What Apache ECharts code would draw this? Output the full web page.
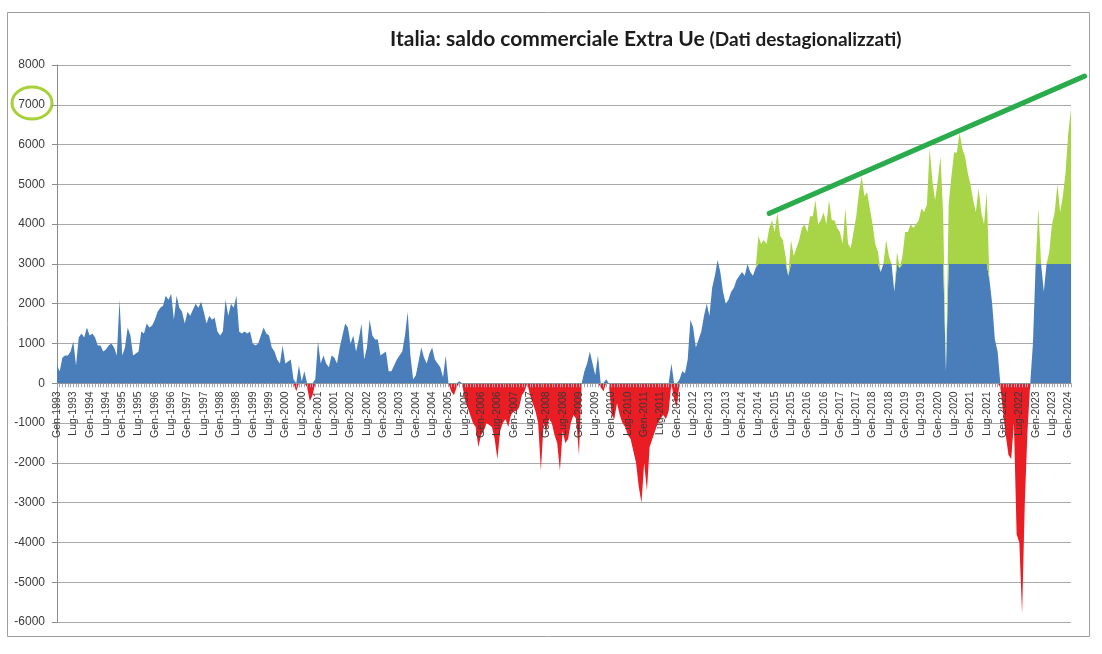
<!DOCTYPE html>
<html>
<head>
<meta charset="utf-8">
<script src="https://cdn.jsdelivr.net/npm/echarts@6/dist/echarts.min.js"></script>
<style>
  html, body { margin: 0; padding: 0; background: #fff; }
  #main { width: 1102px; height: 654px; }
</style>
</head>
<body>
<div id="main"></div>
<script>
// saldo commerciale extra Ue, milioni di euro, dati mensili destagionalizzati
var v1993 = [450, 300, 650, 700, 700, 800, 1050, 450, 1150, 1250, 1150, 1400];
var v1994 = [1200, 1250, 1150, 950, 950, 800, 850, 950, 1000, 900, 700, 2100];
var v1995 = [700, 900, 1400, 1200, 700, 750, 800, 1300, 1250, 1500, 1400, 1450];
var v1996 = [1600, 1800, 1900, 1950, 2200, 2100, 2250, 1600, 2200, 1900, 1800, 1500];
var v1997 = [1800, 1700, 1850, 2000, 1900, 2050, 1800, 1500, 1700, 1600, 1650, 1300];
var v1998 = [1200, 1300, 2100, 1700, 2000, 1900, 2200, 1300, 1250, 1300, 1250, 1300];
var v1999 = [1000, 950, 1000, 1200, 1400, 1250, 1200, 900, 800, 600, 500, 950];
var v2000 = [500, 550, 600, 100, -200, 450, 50, 300, -100, -450, -300, 100];
var v2001 = [1050, 500, 700, 500, 400, 700, 650, 500, 900, 1200, 1500, 1400];
var v2002 = [1000, 1200, 800, 1100, 1500, 600, 900, 1600, 1200, 1100, 1100, 700];
var v2003 = [750, 800, 300, 300, 450, 600, 700, 800, 1200, 1800, 700, 100];
var v2004 = [200, 550, 900, 650, 500, 750, 900, 600, 500, 400, 150, 700];
var v2005 = [0, -200, -300, -100, 50, 0, -400, -600, -800, -1000, -1100, -1600];
var v2006 = [-1300, -1200, -1000, -1050, -1100, -1400, -1900, -1200, -1000, -900, -1100, -800];
var v2007 = [-700, -700, -600, -300, -200, 0, -300, -500, -700, -1000, -2200, -1000];
var v2008 = [-1200, -900, -1000, -1300, -1500, -2200, -1200, -1500, -1400, -1000, -800, -900];
var v2009 = [-1800, 0, 300, 500, 800, 500, 200, 700, -100, -200, 100, 0];
var v2010 = [-800, -900, -500, -800, -1000, -1100, -1300, -1400, -1700, -2000, -2600, -3000];
var v2011 = [-2000, -2700, -1600, -1400, -1200, -1000, -900, -800, -900, -700, 500, -400];
var v2012 = [-600, 100, 300, 250, 600, 1600, 1400, 900, 1100, 1300, 1700, 2000];
var v2013 = [1700, 2400, 2700, 3100, 2800, 2300, 2000, 2100, 2300, 2400, 2600, 2700];
var v2014 = [2800, 2700, 3000, 2800, 2700, 2900, 3700, 3500, 3600, 3500, 3900, 4100];
var v2015 = [3800, 4300, 3700, 3600, 3200, 2700, 3600, 3200, 3400, 3600, 3900, 4000];
var v2016 = [3800, 4200, 4200, 4600, 4000, 4100, 4300, 4000, 4600, 4100, 4100, 3900];
var v2017 = [3800, 3500, 4400, 3500, 3400, 3800, 4200, 4800, 5200, 4700, 4800, 4400];
var v2018 = [4000, 3500, 3300, 2800, 3000, 3600, 3200, 3000, 2300, 3300, 2900, 3200];
var v2019 = [3800, 3800, 4000, 3900, 4000, 4100, 4400, 4300, 4500, 5900, 5100, 4600];
var v2020 = [5100, 5700, 4200, 300, 4500, 5200, 5800, 5800, 6300, 5900, 5700, 5300];
var v2021 = [5000, 4600, 4300, 4900, 4300, 4000, 4800, 2600, 2000, 1100, 800, -100];
var v2022 = [-700, -1300, -1800, -1900, -1000, -3800, -4000, -5800, -3000, -1200, 0, 1000];
var v2023 = [3000, 4400, 3000, 2300, 3000, 3300, 4000, 4300, 5000, 4300, 4700, 5300];
var v2024 = [6300, 6900];

var years = [v1993, v1994, v1995, v1996, v1997, v1998, v1999, v2000, v2001, v2002, v2003,
  v2004, v2005, v2006, v2007, v2008, v2009, v2010, v2011, v2012, v2013, v2014, v2015,
  v2016, v2017, v2018, v2019, v2020, v2021, v2022, v2023, v2024];
var mesi = ['Gen', 'Feb', 'Mar', 'Apr', 'Mag', 'Giu', 'Lug', 'Ago', 'Set', 'Ott', 'Nov', 'Dic'];

// soglia sopra la quale l'area è verde (da Lug-2014)
var soglia = 3000;
var inizioVerde = 'Lug-2014';

// linea di tendenza: [indice mese, valore]
var trendStart = [262, 4270];
var trendEnd = [378, 7720];

var categories = [];
var values = [];
years.forEach(function (arr, yi) {
  arr.forEach(function (v, mi) {
    categories.push(mesi[mi] + '-' + (1993 + yi));
    values.push(v);
  });
});
var idxVerde = categories.indexOf(inizioVerde);

var blue = [], green = [], red = [];
values.forEach(function (v, i) {
  var cap = i >= idxVerde ? soglia : Infinity;
  blue.push(Math.max(0, Math.min(v, cap)));
  green.push(i >= idxVerde ? Math.max(0, v - soglia) : 0);
  red.push(Math.min(0, v));
});

var W = 1102, H = 654;
var gLeft = 57, gRight = 31, gTop = 65, gBottom = 32;
var plotW = W - gLeft - gRight;
var plotH = H - gTop - gBottom;
var yMin = -6000, yMax = 8000;
// la linea di tendenza sborda a destra: griglia più larga con la stessa scala
var trendRight = 8;
var trendMax = (categories.length - 1) * (W - gLeft - trendRight) / plotW;

var chart = echarts.init(document.getElementById('main'));
chart.setOption({
  animation: false,
  backgroundColor: '#fff',
  title: {
    text: '{a|Italia: saldo commerciale Extra Ue} {b|(Dati destagionalizzati)}',
    left: 385,
    top: 24,
    textStyle: {
      rich: {
        a: { fontFamily: 'Lato', fontSize: 21, fontWeight: 'bold', color: '#1c1c1c' },
        b: { fontFamily: 'Lato', fontSize: 19, color: '#1c1c1c' }
      }
    }
  },
  grid: [
    { left: gLeft, right: gRight, top: gTop, bottom: gBottom, outerBoundsMode: 'none' },
    { left: gLeft, right: trendRight, top: gTop, bottom: gBottom, outerBoundsMode: 'none' }
  ],
  xAxis: [
    {
      type: 'category',
      data: categories,
      boundaryGap: false,
      z: 3,
      offset: -plotH * (0 - yMin) / (yMax - yMin),
      axisLine: { onZero: false, lineStyle: { color: '#8c8c8c' } },
      axisTick: { interval: 0, length: 4, lineStyle: { color: '#9aa6b8' } },
      axisLabel: {
        interval: 5,
        rotate: 90,
        fontSize: 10.5,
        fontFamily: 'Liberation Sans',
        color: '#3a3a3a',
        margin: 8
      },
      splitLine: { show: false }
    },
    { type: 'value', gridIndex: 1, min: 0, max: trendMax, show: false }
  ],
  yAxis: [
    {
      type: 'value',
      min: yMin,
      max: yMax,
      interval: 1000,
      axisLine: { show: true, onZero: false, lineStyle: { color: '#8c8c8c' } },
      axisTick: { show: true, length: 5, lineStyle: { color: '#8c8c8c' } },
      axisLabel: {
        fontSize: 12,
        fontFamily: 'Liberation Sans',
        color: '#3a3a3a',
        margin: 12,
        formatter: function (v) { return String(v); }
      },
      splitLine: { lineStyle: { color: '#a8a8a8' } }
    },
    { type: 'value', gridIndex: 1, min: yMin, max: yMax, show: false }
  ],
  series: [
    {
      type: 'line',
      stack: 'pos',
      data: blue,
      symbol: 'none',
      lineStyle: { width: 0 },
      areaStyle: { color: '#4a7ebb', opacity: 1 }
    },
    {
      type: 'line',
      stack: 'pos',
      data: green,
      symbol: 'none',
      lineStyle: { width: 0 },
      areaStyle: { color: '#a8d548', opacity: 1 }
    },
    {
      type: 'line',
      data: red,
      symbol: 'none',
      lineStyle: { width: 0 },
      areaStyle: { color: '#ea1c24', opacity: 1 }
    },
    {
      type: 'line',
      xAxisIndex: 1,
      yAxisIndex: 1,
      data: [trendStart, trendEnd],
      symbol: 'none',
      z: 5,
      lineStyle: { color: '#2aac4c', width: 5, cap: 'round' }
    }
  ],
  graphic: [
    {
      type: 'rect',
      shape: { x: 7.5, y: 12.5, width: 1082, height: 624 },
      style: { fill: 'none', stroke: '#a0a0a0', lineWidth: 1 },
      silent: true
    },
    {
      type: 'ellipse',
      shape: { cx: 32, cy: 103, rx: 20, ry: 16 },
      style: { fill: 'none', stroke: '#a6d13a', lineWidth: 3 },
      silent: true
    }
  ]
});
</script>
</body>
</html>
